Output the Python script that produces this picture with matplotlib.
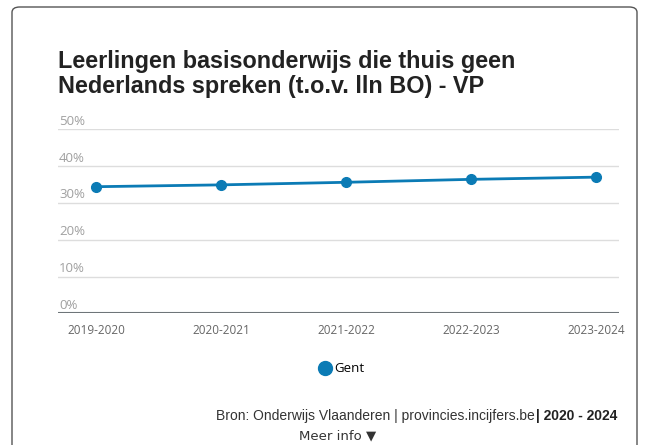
"""Leerlingen basisonderwijs die thuis geen Nederlands spreken - Gent."""
import matplotlib
matplotlib.use("Agg")
import matplotlib.pyplot as plt
from matplotlib.patches import FancyBboxPatch
from matplotlib.lines import Line2D
import matplotlib.transforms as mtransforms

YEARS = ["2019-2020", "2020-2021", "2021-2022", "2022-2023", "2023-2024"]
GENT = [34.4, 34.9, 35.6, 36.4, 37.0]
Y_TICKS = [0, 10, 20, 30, 40, 50]

TITLE = "Leerlingen basisonderwijs die thuis geen\nNederlands spreken (t.o.v. lln BO) - VP"
BLUE = "#0b7bb5"
W, H = 649, 445

fig = plt.figure(figsize=(W / 100, H / 100), dpi=100)

# card border
card = FancyBboxPatch((12 / W, -0.2), (637 - 12) / W, 1 - 7 / H + 0.2,
                      boxstyle="round,pad=0,rounding_size=0.012",
                      transform=fig.transFigure, fill=False,
                      edgecolor="#555555", lw=1.0)
fig.patches.append(card)

fig.text(58 / W, 1 - 50 / H, TITLE, ha="left", va="top",
         fontsize=16.8, fontweight="bold", color="#222222",
         family="Liberation Sans", linespacing=1.12)

ax = fig.add_axes([58 / W, 1 - 313.3 / H, 561 / W, 184 / H])
x = list(range(len(YEARS)))
ax.plot(x, GENT, color=BLUE, lw=2, marker="o", ms=7, zorder=3, clip_on=False)
ax.set_xlim(-0.304, len(YEARS) - 1 + 0.184)
ax.set_ylim(0, 50)
for s in ax.spines.values():
    s.set_visible(False)
ax.set_yticks([])
ax.set_xticks(x)
ax.set_xticklabels(YEARS, fontsize=8.5, color="#666666", family="Open Sans")
ax.tick_params(axis="x", length=0, pad=8)

trans = mtransforms.blended_transform_factory(ax.transAxes, ax.transData)
for v in Y_TICKS:
    if v == 0:
        ax.axhline(v, color="#6e7579", lw=1.5, zorder=2)
    else:
        ax.axhline(v, color="#dddddd", lw=1, zorder=1)
    ax.text(0.002, v + 0.4, f"{v}%", transform=trans, ha="left", va="bottom",
            fontsize=9.5, color="#a0a0a0", family="Open Sans")

# legend
handle = Line2D([], [], color=BLUE, marker="o", ls="none", ms=10)
fig.legend([handle], ["Gent"], loc="center", bbox_to_anchor=(341 / W, 1 - 369 / H),
           frameon=False, handletextpad=0.2, handlelength=1,
           prop={"family": "Open Sans", "size": 9.5})

# source line: bold part right-aligned, regular part placed left of it
bold = fig.text(617 / W, 1 - 416 / H, "| 2020 - 2024", ha="right", va="center",
                fontsize=10, fontweight="bold", color="#222222",
                family="Liberation Sans")
renderer = fig.canvas.get_renderer()
bx0 = bold.get_window_extent(renderer).x0
fig.text((bx0 - 1) / W, 1 - 416 / H, "Bron: Onderwijs Vlaanderen | provincies.incijfers.be",
         ha="right", va="center", fontsize=10, color="#333333",
         family="Liberation Sans")
fig.text(338 / W, 1 - 436 / H, "Meer info \u25BC", ha="center", va="center",
         fontsize=9.5, color="#333333", family="DejaVu Sans")

fig.savefig("out.png", dpi=100)
